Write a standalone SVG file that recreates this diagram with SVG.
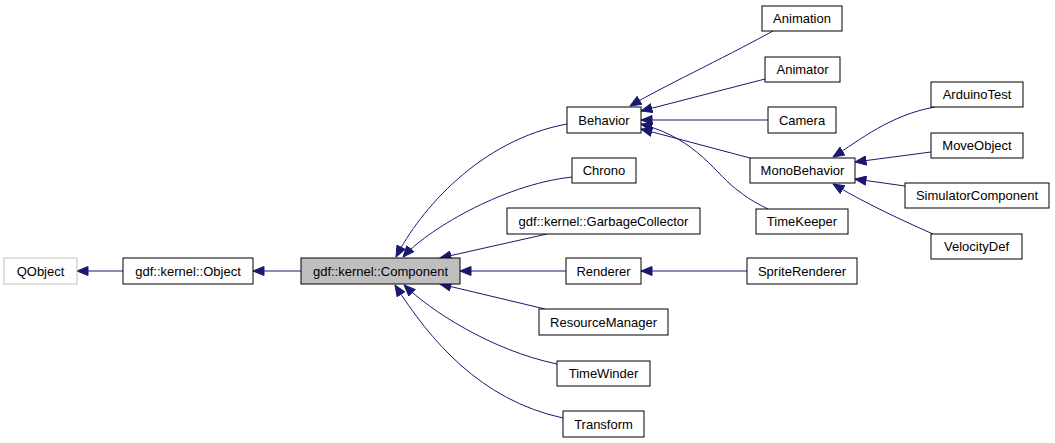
<svg xmlns="http://www.w3.org/2000/svg" width="1055" height="443" viewBox="0 0 1055 443">
<style>
.n rect{fill:#fff;stroke:#000;stroke-width:1}
.n text{font-family:"Liberation Sans",Arial,sans-serif;font-size:13px;fill:#000;text-anchor:middle}
#edges path{fill:none;stroke:#191970;stroke-width:1;marker-start:url(#ah)}
</style>
<defs>
<marker id="ah" viewBox="0 0 12 10" markerWidth="12" markerHeight="10" refX="11.5" refY="5" markerUnits="userSpaceOnUse" orient="auto-start-reverse">
<path d="M0.5,0.5 L11.5,5 L0.5,9.5 z" fill="#191970" stroke="#191970" stroke-width="1"/>
</marker>
</defs>
<rect width="1055" height="443" fill="#fff"/>
<g id="edges">
<path d="M77,271 L123,271"/>
<path d="M253,271 L301,271"/>
<path d="M396,257 C420,210 480,140 567,124"/>
<path d="M403,257 C425,232 500,185 572,177"/>
<path d="M440,258 L547,234"/>
<path d="M460,271 L566,271"/>
<path d="M440,284 L545,309"/>
<path d="M404,285 C430,310 490,350 557,364"/>
<path d="M395,285 C430,340 480,400 563,418"/>
<path d="M641,271 L747,271"/>
<path d="M630,106 C660,88 720,60 773,31"/>
<path d="M641,111 L765,79"/>
<path d="M641,120 L768,120"/>
<path d="M641,129 L750,158"/>
<path d="M641,124 C700,140 715,175 740,192 C750,200 760,205 768,209"/>
<path d="M833,157 C860,140 890,115 935,107"/>
<path d="M855,162 L931,152"/>
<path d="M855,179 L905,186"/>
<path d="M833,184 C860,200 890,215 933,234"/>
</g>
<g id="QObject" class="n"><rect x="4" y="258" width="73" height="26" style="stroke:#bfbfbf"/><text x="40.5" y="275.5">QObject</text></g>
<g id="Object" class="n"><rect x="123" y="258" width="130" height="26"/><text x="188" y="275.5">gdf::kernel::Object</text></g>
<g id="Component" class="n"><rect x="301" y="258" width="159" height="26" style="fill:#bfbfbf"/><text x="380.5" y="275.5">gdf::kernel::Component</text></g>
<g id="Behavior" class="n"><rect x="567" y="107" width="74" height="26"/><text x="604" y="124.5">Behavior</text></g>
<g id="Chrono" class="n"><rect x="572" y="158" width="64" height="25"/><text x="604" y="175">Chrono</text></g>
<g id="GarbageCollector" class="n"><rect x="507" y="208" width="193" height="26"/><text x="603.5" y="225.5">gdf::kernel::GarbageCollector</text></g>
<g id="Renderer" class="n"><rect x="566" y="258" width="75" height="26"/><text x="603.5" y="275.5">Renderer</text></g>
<g id="ResourceManager" class="n"><rect x="539" y="309" width="129" height="26"/><text x="603.5" y="326.5">ResourceManager</text></g>
<g id="TimeWinder" class="n"><rect x="557" y="361" width="93" height="25"/><text x="603.5" y="378">TimeWinder</text></g>
<g id="Transform" class="n"><rect x="563" y="411" width="81" height="26"/><text x="603.5" y="428.5">Transform</text></g>
<g id="Animation" class="n"><rect x="762" y="6" width="80" height="25"/><text x="802" y="23">Animation</text></g>
<g id="Animator" class="n"><rect x="765" y="57" width="75" height="25"/><text x="802.5" y="74">Animator</text></g>
<g id="Camera" class="n"><rect x="768" y="107" width="68" height="26"/><text x="802" y="124.5">Camera</text></g>
<g id="MonoBehavior" class="n"><rect x="750" y="158" width="105" height="25"/><text x="802.5" y="175">MonoBehavior</text></g>
<g id="TimeKeeper" class="n"><rect x="756" y="209" width="92" height="25"/><text x="802" y="226">TimeKeeper</text></g>
<g id="SpriteRenderer" class="n"><rect x="747" y="258" width="110" height="26"/><text x="802" y="275.5">SpriteRenderer</text></g>
<g id="ArduinoTest" class="n"><rect x="931" y="82" width="92" height="25"/><text x="977" y="99">ArduinoTest</text></g>
<g id="MoveObject" class="n"><rect x="931" y="133" width="92" height="25"/><text x="977" y="150">MoveObject</text></g>
<g id="SimulatorComponent" class="n"><rect x="905" y="183" width="144" height="25"/><text x="977" y="200">SimulatorComponent</text></g>
<g id="VelocityDef" class="n"><rect x="931" y="234" width="91" height="25"/><text x="976.5" y="251">VelocityDef</text></g>
</svg>
